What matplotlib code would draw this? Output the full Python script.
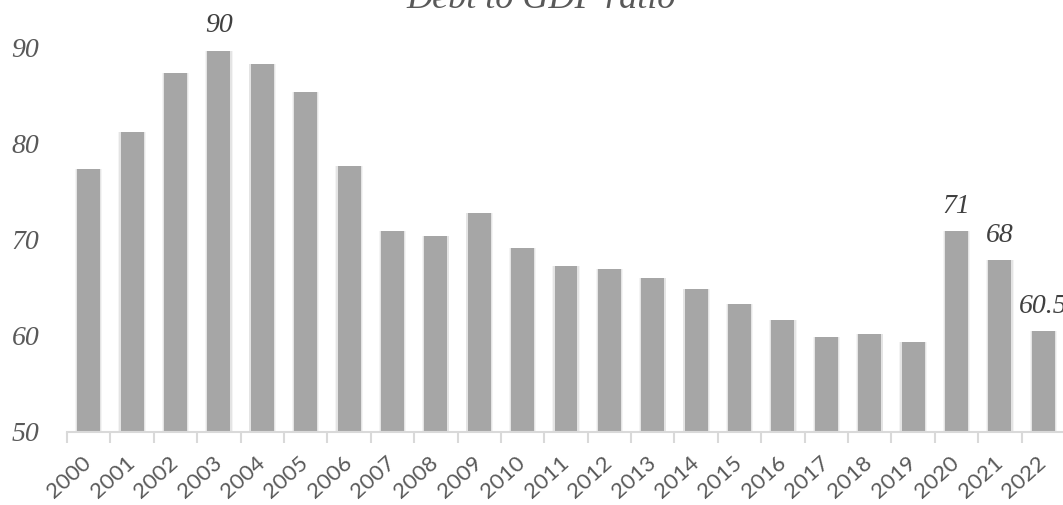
import matplotlib.pyplot as plt
import numpy as np

years = [str(y) for y in range(2000, 2023)]
debt_ratio = [77.4, 81.3, 87.4, 89.7, 88.3, 85.4, 77.7, 70.9, 70.4, 72.8, 69.2, 67.3,
              67.0, 66.0, 64.9, 63.3, 61.7, 59.9, 60.2, 59.4, 70.9, 67.9, 60.5]
labelled = {"2003": "90", "2020": "71", "2021": "68", "2022": "60.5"}
y_ticks = [50, 60, 70, 80, 90]

serif = ["Liberation Serif", "DejaVu Serif"]
sans = ["Lato", "DejaVu Sans"]

fig = plt.figure(figsize=(10.63, 5.05), dpi=100)
ax = fig.add_axes([67 / 1063, 73 / 505, 998 / 1063, 384 / 505])

x = np.arange(len(years))
heights = [v - 50 for v in debt_ratio]
# soft shadow around each bar
for w, a in [(0.63, 0.12), (0.59, 0.2)]:
    ax.bar(x, heights, bottom=50, width=w, color="#a6a6a6", alpha=a, zorder=1)
ax.bar(x, heights, bottom=50, width=0.53, color="#a6a6a6", zorder=2)

for i, yr in enumerate(years):
    if yr in labelled:
        ax.text(i, debt_ratio[i] + 1.3, labelled[yr], ha="center", va="bottom",
                fontsize=20, style="italic", family=serif, color="#404040", clip_on=False)

ax.set_xlim(-0.5, len(years) - 0.5)
ax.set_ylim(50, 90)
ax.set_yticks(y_ticks)
ax.set_yticklabels([str(t) for t in y_ticks], fontsize=20, style="italic",
                   family=serif, color="#595959")
ax.tick_params(axis="y", length=0, pad=20)

ax.set_xticks(x)
ax.set_xticklabels(years, rotation=42, ha="right", va="center", rotation_mode="anchor",
                   fontsize=16, family=sans, color="#595959")
ax.tick_params(axis="x", which="major", length=0, pad=20)
ax.set_xticks(np.arange(-0.5, len(years), 1), minor=True)
ax.tick_params(axis="x", which="minor", length=8, width=1.5, color="#d9d9d9")

for side in ["top", "right", "left"]:
    ax.spines[side].set_visible(False)
ax.spines["bottom"].set_color("#d9d9d9")
ax.spines["bottom"].set_linewidth(1.5)

fig.text(541 / 1063, 1 - 8 / 505, "Debt to GDP ratio", ha="center", va="baseline",
         fontsize=26, style="italic", family=serif, color="#595959")

fig.savefig("out.png", dpi=100)
